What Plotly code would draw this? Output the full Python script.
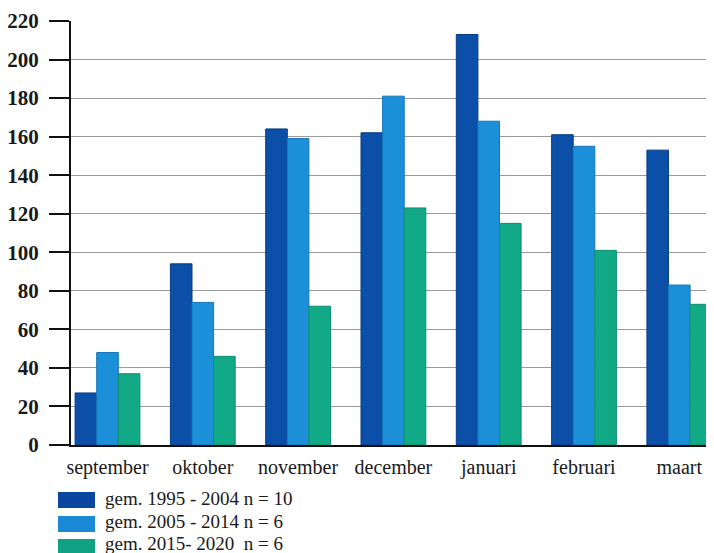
import plotly.graph_objects as go

months = ["september", "oktober", "november", "december", "januari", "februari", "maart"]
series_names = ["gem. 1995 - 2004 n = 10", "gem. 2005 - 2014 n = 6", "gem. 2015- 2020  n = 6"]
vals_1995_2004 = [27, 94, 164, 162, 213, 161, 153]
vals_2005_2014 = [48, 74, 159, 181, 168, 155, 83]
vals_2015_2020 = [37, 46, 72, 123, 115, 101, 73]
y_ticks = list(range(0, 221, 20))

colors = ["#0b4fa8", "#1b8fd8", "#12a986"]
edge_colors = ["#083d85", "#1478b8", "#0e8f70"]
legend_colors = ["#0a46a0", "#1a8ad4", "#10a282"]
series_vals = [vals_1995_2004, vals_2005_2014, vals_2015_2020]

# page has an 8px body margin; figure sized to fill the rest of the window
OFF = 8
W, H = 714 - OFF, 553 - OFF
# target plot area in window pixels: x 71..714, y 21..445
L, R, T, B = 71 - OFF, 0, 21 - OFF, H - (445 - OFF)

fig = go.Figure()
for name, vals, c, ec in zip(series_names, series_vals, colors, edge_colors):
    fig.add_trace(go.Bar(x=months, y=vals, name=name, marker=dict(color=c, line=dict(color=ec, width=1)),
                         showlegend=False))

# legend built from series names/colors (paper coords, from window pixels)
pw, ph = W - L - R, H - T - B
def px_x(p):
    return (p - OFF - L) / pw
def px_y(p):
    return (H - B - (p - OFF)) / ph

swatch_centers = [500, 524, 547]
text_centers = [498, 521, 543]
for name, c, ys, yt in zip(series_names, legend_colors, swatch_centers, text_centers):
    fig.add_shape(type="rect", xref="paper", yref="paper",
                  x0=px_x(58), x1=px_x(95), y0=px_y(ys + 8), y1=px_y(ys - 8),
                  fillcolor=c, line=dict(width=0))
    fig.add_annotation(xref="paper", yref="paper", x=px_x(103), y=px_y(yt), text=name,
                       showarrow=False, xanchor="left", yanchor="middle",
                       font=dict(family="Liberation Serif", size=19, color="#1a1a1a"))

fig.update_layout(
    width=W, height=H,
    margin=dict(l=L, r=R, t=T, b=B, autoexpand=False),
    paper_bgcolor="white", plot_bgcolor="white",
    barmode="group", bargap=0.32, bargroupgap=0,
    font=dict(family="Liberation Serif", color="#1a1a1a"),
)
fig.update_xaxes(
    range=[-0.383, 6.364], showgrid=False, showline=True, linecolor="#111", linewidth=2,
    ticks="", tickfont=dict(family="Liberation Serif", size=20, color="#1a1a1a"),
    ticklabelstandoff=3, automargin=False,
)
fig.update_yaxes(
    range=[0, 220], tickvals=y_ticks, showgrid=True, gridcolor="#9a9a9a", gridwidth=1,
    showline=True, linecolor="#111", linewidth=2, ticks="outside", ticklen=20, tickwidth=2,
    tickcolor="#111", zeroline=False, automargin=False,
    tickfont=dict(family="Liberation Serif", size=21, color="#1a1a1a", weight="bold"),
    ticklabelstandoff=6,
)

fig.write_html("out.html")
